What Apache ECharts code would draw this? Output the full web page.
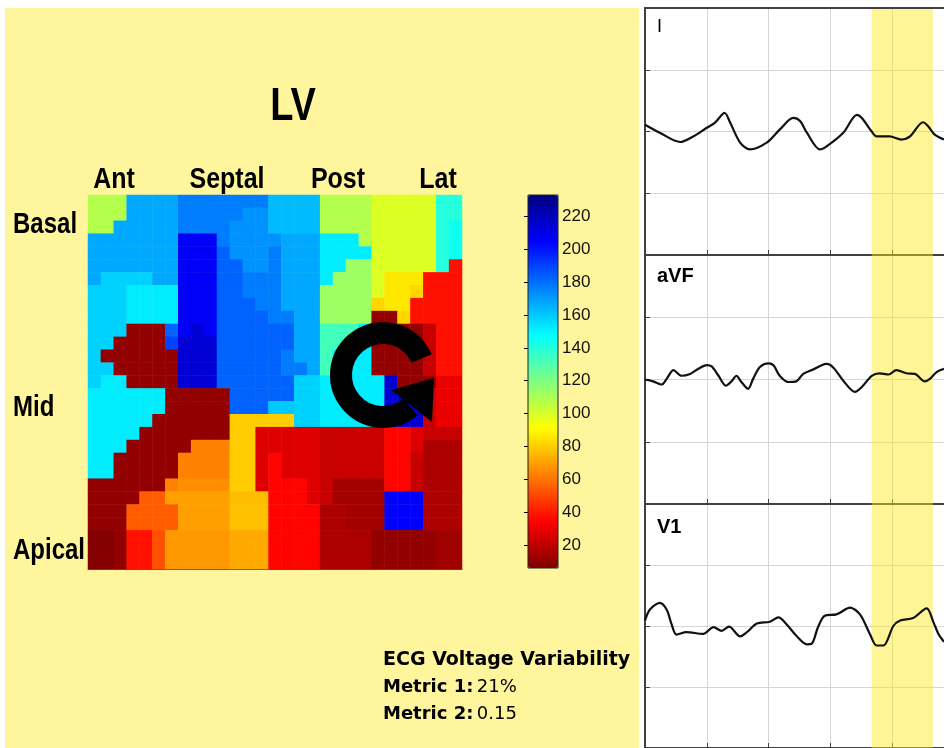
<!DOCTYPE html>
<html><head><meta charset="utf-8">
<script src="https://cdn.jsdelivr.net/npm/echarts@6/dist/echarts.min.js"></script>
<style>html,body{margin:0;padding:0;background:#fff}#c{width:944px;height:748px}</style>
</head><body><div id="c"></div>
<script>
// ---- LV activation map values (29 x 29 cells, row 0 = Basal/top) ----
const heatValues = [
[108,108,108,167,167,167,167,177,177,177,177,177,177,177,163,163,163,163,108,108,108,108,99,99,99,99,99,140,140],
[108,108,108,167,167,167,167,177,177,177,177,177,172,172,163,163,163,163,108,108,108,108,99,99,99,99,99,140,140],
[108,108,167,167,167,167,167,177,177,177,177,172,172,172,163,163,163,163,108,108,108,108,99,99,99,99,99,140,145],
[167,167,167,167,167,167,167,206,206,206,177,172,172,172,172,167,167,167,152,152,152,108,99,99,99,99,99,140,145],
[167,167,167,167,167,167,167,206,206,206,183,172,172,172,177,167,167,167,152,152,152,152,99,99,99,99,99,140,145],
[167,167,167,167,167,167,167,206,206,206,183,183,172,172,177,167,167,167,152,152,113,113,99,99,99,99,99,140,38],
[167,158,158,158,158,167,167,206,206,206,183,183,177,177,177,167,167,167,152,113,113,113,99,86,86,86,38,38,38],
[158,158,158,152,152,152,152,206,206,206,183,183,177,177,177,167,167,167,113,113,113,113,99,86,86,82,38,38,38],
[158,158,158,152,152,152,152,206,206,206,183,183,183,177,177,167,167,167,113,113,113,113,82,86,86,38,38,38,38],
[158,158,158,152,152,152,152,206,206,206,183,183,183,183,177,177,167,167,113,113,113,113,10,10,82,38,38,38,38],
[158,158,158,10,10,10,183,206,214,206,183,183,183,183,183,183,167,167,133,133,133,152,10,10,10,10,22,38,38],
[158,158,10,10,10,10,190,214,214,214,183,183,183,183,183,183,167,167,133,133,152,152,10,10,10,10,22,38,38],
[158,10,10,10,10,10,10,214,214,214,183,183,183,183,183,177,167,167,133,152,152,152,10,10,10,10,22,38,38],
[158,158,10,10,10,10,10,214,214,214,183,183,183,183,183,177,177,167,133,152,152,152,10,10,10,10,22,38,38],
[158,152,152,10,10,10,10,214,214,214,183,183,183,183,183,183,158,158,152,152,152,152,152,214,10,10,10,30,30],
[152,152,152,152,152,152,10,10,10,10,10,183,183,183,183,183,158,158,152,152,152,152,152,214,214,10,22,30,30],
[152,152,152,152,152,152,10,10,10,10,10,183,183,183,160,160,158,158,152,152,152,152,152,214,214,214,22,30,30],
[152,152,152,152,152,10,10,10,10,10,10,80,80,80,80,80,158,158,152,152,152,152,152,214,214,214,22,30,30],
[152,152,152,152,10,10,10,10,10,10,10,80,80,27,27,27,27,27,22,22,22,22,22,35,35,27,22,22,22],
[152,152,152,10,10,10,10,10,63,63,63,80,80,27,27,27,27,27,22,22,22,22,22,35,35,27,16,16,16],
[152,152,10,10,10,10,10,63,63,63,63,80,80,27,35,27,27,27,22,22,22,22,22,35,35,22,16,16,16],
[152,152,10,10,10,10,10,63,63,63,63,80,80,27,35,27,27,27,22,22,22,22,22,35,35,22,16,16,16],
[10,10,10,10,10,10,63,66,66,66,66,80,80,27,35,35,35,27,22,14,14,14,14,35,35,22,16,16,16],
[10,10,10,10,55,55,70,70,70,70,70,76,76,76,35,35,35,27,22,14,14,14,14,205,205,205,16,16,16],
[10,10,10,55,55,55,55,70,70,70,70,77,77,77,35,35,35,35,16,16,14,14,14,205,205,205,16,16,16],
[10,10,10,55,55,55,55,70,70,70,70,77,77,77,35,35,35,35,16,16,14,14,14,205,205,205,16,16,16],
[7,7,10,38,38,52,68,68,68,68,68,72,72,72,35,35,35,35,16,16,16,16,10,10,10,10,10,13,13],
[7,7,10,38,38,52,68,68,68,68,68,72,72,72,35,35,35,35,16,16,16,16,10,10,10,10,10,13,13],
[7,7,10,38,38,52,68,68,68,68,68,72,72,72,35,35,35,35,16,16,16,16,10,10,10,10,10,13,13]
];
const colorbarTicks = [20,40,60,80,100,120,140,160,180,200,220];
const colorRange = [6, 233];
const colLabels = ['Ant','Septal','Post','Lat'];
const rowLabels = ['Basal','Mid','Apical'];

// ---- ECG traces: [time (grid units), amplitude (grid units)] ----
const leadI = [[0,0.11],[0.24,-0.02],[0.57,-0.17],[0.78,-0.08],[1.00,0.06],[1.13,0.14],[1.29,0.30],[1.38,0.14],[1.54,-0.18],[1.70,-0.29],[1.97,-0.18],[2.18,0.03],[2.40,0.22],[2.51,0.17],[2.62,-0.02],[2.83,-0.29],[2.94,-0.24],[3.21,-0.02],[3.43,0.27],[3.51,0.22],[3.67,0.00],[3.75,-0.08],[3.96,-0.08],[4.15,-0.13],[4.29,-0.08],[4.50,0.15],[4.58,0.09],[4.69,-0.05],[4.84,-0.13]];
const leadAVF = [[0,0.00],[0.13,-0.03],[0.27,-0.08],[0.35,0.01],[0.46,0.15],[0.59,0.06],[0.73,0.09],[0.86,0.17],[1.00,0.23],[1.08,0.21],[1.19,0.06],[1.31,-0.10],[1.40,-0.03],[1.48,0.06],[1.56,-0.04],[1.67,-0.15],[1.75,0.01],[1.86,0.20],[2.00,0.26],[2.08,0.23],[2.18,0.06],[2.32,-0.04],[2.45,-0.03],[2.56,0.09],[2.72,0.16],[2.86,0.23],[2.94,0.25],[3.05,0.19],[3.21,-0.02],[3.40,-0.20],[3.51,-0.12],[3.67,0.06],[3.80,0.10],[3.94,0.08],[4.07,0.15],[4.23,0.10],[4.37,0.09],[4.53,-0.03],[4.61,0.01],[4.72,0.12],[4.84,0.17]];
const leadV1 = [[0,0.09],[0.08,0.27],[0.24,0.38],[0.35,0.27],[0.43,0.03],[0.51,-0.14],[0.67,-0.10],[0.94,-0.13],[1.11,-0.02],[1.24,-0.08],[1.36,-0.01],[1.54,-0.17],[1.65,-0.10],[1.81,0.04],[2.02,0.07],[2.16,0.14],[2.29,0.03],[2.45,-0.16],[2.62,-0.30],[2.70,-0.29],[2.80,-0.02],[2.91,0.17],[3.10,0.19],[3.32,0.30],[3.48,0.19],[3.64,-0.13],[3.75,-0.32],[3.86,-0.32],[4.02,0.00],[4.13,0.09],[4.34,0.13],[4.56,0.29],[4.67,0.06],[4.75,-0.13],[4.84,-0.26]];
const leadNames = ['I','aVF','V1'];
const highlightWindow = [3.67, 4.66];
const timeExtent = [0, 4.84];
const metricTitle = 'ECG Voltage Variability';
const metricLabels = ['Metric 1:','Metric 2:'];
const metricValues = ['21%','0.15'];

// ---- build ----
const heatData = [];
heatValues.forEach((row, r) => row.forEach((v, c) => heatData.push([c, r, v])));
const nCols = heatValues[0].length, nRows = heatValues.length;
const catX = Array.from({length:nCols}, (_, i) => i);
const catY = Array.from({length:nRows}, (_, i) => i);
const jet = ['#800000','#ff0000','#ff8000','#ffff00','#80ff80','#00ffff','#0080ff','#0000ff','#000080'];
const FONT = 'Liberation Sans, Arial, sans-serif';
const DARK = '#404040';

function ecgX(g){return {gridIndex:g,type:'value',min:timeExtent[0],max:timeExtent[1],interval:1,
  axisLabel:{show:false},axisLine:{show:true,onZero:false,lineStyle:{color:DARK,width:2}},
  axisTick:{show:true,inside:true,length:5,lineStyle:{color:DARK}},
  splitLine:{show:true,lineStyle:{color:'#d6d6d6',width:1}}};}
function ecgY(g){return {gridIndex:g,type:'value',min:-2,max:2,interval:1,
  axisLabel:{show:false},axisLine:{show:true,onZero:false,lineStyle:{color:DARK,width:2}},
  axisTick:{show:true,inside:true,length:5,lineStyle:{color:DARK}},
  splitLine:{show:true,lineStyle:{color:'#d6d6d6',width:1}}};}
function ecgSeries(data, xi, yi){return {type:'line',xAxisIndex:xi,yAxisIndex:yi,data:data,
  showSymbol:false,symbol:'none',silent:true,z:3,smooth:0.3,lineStyle:{color:'#111',width:2.2},
  markArea:{silent:true,itemStyle:{color:'rgba(255,233,22,0.45)'},
    data:[[{xAxis:highlightWindow[0]},{xAxis:highlightWindow[1]}]]}};}

const colX = [114, 227, 338, 438];
const rowY = [225, 408, 551];
const ecgLabelY = [27, 276, 527];

const graphic = [
  {type:'rect',z:-5,silent:true,shape:{x:5,y:8,width:634,height:740},style:{fill:'#FFF59D'}},
  {type:'line',z:10,silent:true,shape:{x1:644,y1:8,x2:944,y2:8},style:{stroke:DARK,lineWidth:2}},
  {type:'text',x:293,y:107,scaleY:1.2,z:10,style:{text:'LV',fontFamily:FONT,fontSize:38,fontWeight:'bold',fill:'#000',align:'center',verticalAlign:'middle'}},
  {type:'rect',z:10,silent:true,shape:{x:528,y:195,width:30,height:373},style:{fill:null,stroke:'#222',lineWidth:1}},
  {type:'arc',z:10,silent:true,shape:{cx:383,cy:375,r:42,startAngle:0.86,endAngle:5.88,clockwise:true},style:{stroke:'#000',lineWidth:22,fill:null}},
  {type:'polygon',z:10,silent:true,shape:{points:[[391,390],[434,378],[432,422]]},style:{fill:'#000'}},
  {type:'text',x:383,y:660,z:10,style:{text:metricTitle,fontFamily:'DejaVu Sans, sans-serif',fontSize:19,fontWeight:'bold',fill:'#000',align:'left',verticalAlign:'middle'}}
];
colLabels.forEach((t,i)=>graphic.push({type:'text',x:colX[i],y:180,scaleY:1.15,z:10,style:{text:t,fontFamily:FONT,fontSize:25,fontWeight:'bold',fill:'#000',align:'center',verticalAlign:'middle'}}));
rowLabels.forEach((t,i)=>graphic.push({type:'text',x:13,y:rowY[i],scaleY:1.2,z:10,style:{text:t,fontFamily:FONT,fontSize:24,fontWeight:'bold',fill:'#000',align:'left',verticalAlign:'middle'}}));
leadNames.forEach((t,i)=>graphic.push({type:'text',x:657,y:ecgLabelY[i],z:10,style:{text:t,fontFamily:FONT,fontSize:i===0?18:20,fontWeight:i===0?'normal':'bold',fill:'#000',align:'left',verticalAlign:'middle'}}));
metricLabels.forEach((t,i)=>graphic.push({type:'text',x:383,y:687+i*27,z:10,style:{
  text:'{b|'+t+'} {n|'+metricValues[i]+'}',align:'left',verticalAlign:'middle',
  rich:{b:{fontFamily:'DejaVu Sans, sans-serif',fontSize:18,fontWeight:'bold',fill:'#000'},
        n:{fontFamily:'DejaVu Sans, sans-serif',fontSize:18,fontWeight:'normal',fill:'#000'}}}}));

const option = {
  animation:false,
  backgroundColor:'#fff',
  graphic:graphic,
  grid:[
    {left:88,top:195,width:374,height:374},
    {left:528,top:195,width:30,height:373},
    {left:645,top:8,width:299,height:247,show:true,backgroundColor:'#fff',borderWidth:0},
    {left:645,top:255,width:299,height:249,show:true,backgroundColor:'#fff',borderWidth:0},
    {left:645,top:504,width:299,height:244,show:true,backgroundColor:'#fff',borderWidth:0}
  ],
  xAxis:[
    {gridIndex:0,type:'category',data:catX,axisLabel:{show:false},axisTick:{show:false},axisLine:{show:true,lineStyle:{color:'#555',width:1}},splitLine:{show:false}},
    {gridIndex:1,type:'value',min:0,max:1,show:false},
    ecgX(2),ecgX(3),ecgX(4)
  ],
  yAxis:[
    {gridIndex:0,type:'category',data:catY,inverse:true,show:false},
    {gridIndex:1,type:'value',min:colorRange[0],max:colorRange[1],position:'right',
      axisLine:{show:false},splitLine:{show:false},
      axisTick:{show:true,inside:true,length:4,customValues:colorbarTicks,lineStyle:{color:'#000'}},
      axisLabel:{show:true,customValues:colorbarTicks,margin:4,fontFamily:FONT,fontSize:17,color:'#111'}},
    {gridIndex:1,type:'value',min:colorRange[0],max:colorRange[1],position:'left',
      axisLine:{show:false},splitLine:{show:false},
      axisTick:{show:true,inside:true,length:4,customValues:colorbarTicks,lineStyle:{color:'#000'}},
      axisLabel:{show:false}},
    ecgY(2),ecgY(3),ecgY(4)
  ],
  visualMap:{type:'continuous',seriesIndex:0,min:colorRange[0],max:colorRange[1],
    left:528,top:195,itemWidth:30,itemHeight:373,padding:0,calculable:false,
    hoverLink:false,text:null,inRange:{color:jet}},
  series:[
    {type:'heatmap',xAxisIndex:0,yAxisIndex:0,data:heatData,itemStyle:{borderWidth:0},emphasis:{disabled:true},silent:true},
    ecgSeries(leadI,2,3),
    ecgSeries(leadAVF,3,4),
    ecgSeries(leadV1,4,5)
  ]
};
const chart = echarts.init(document.getElementById('c'), null, {renderer:'canvas'});
chart.setOption(option);
</script></body></html>
